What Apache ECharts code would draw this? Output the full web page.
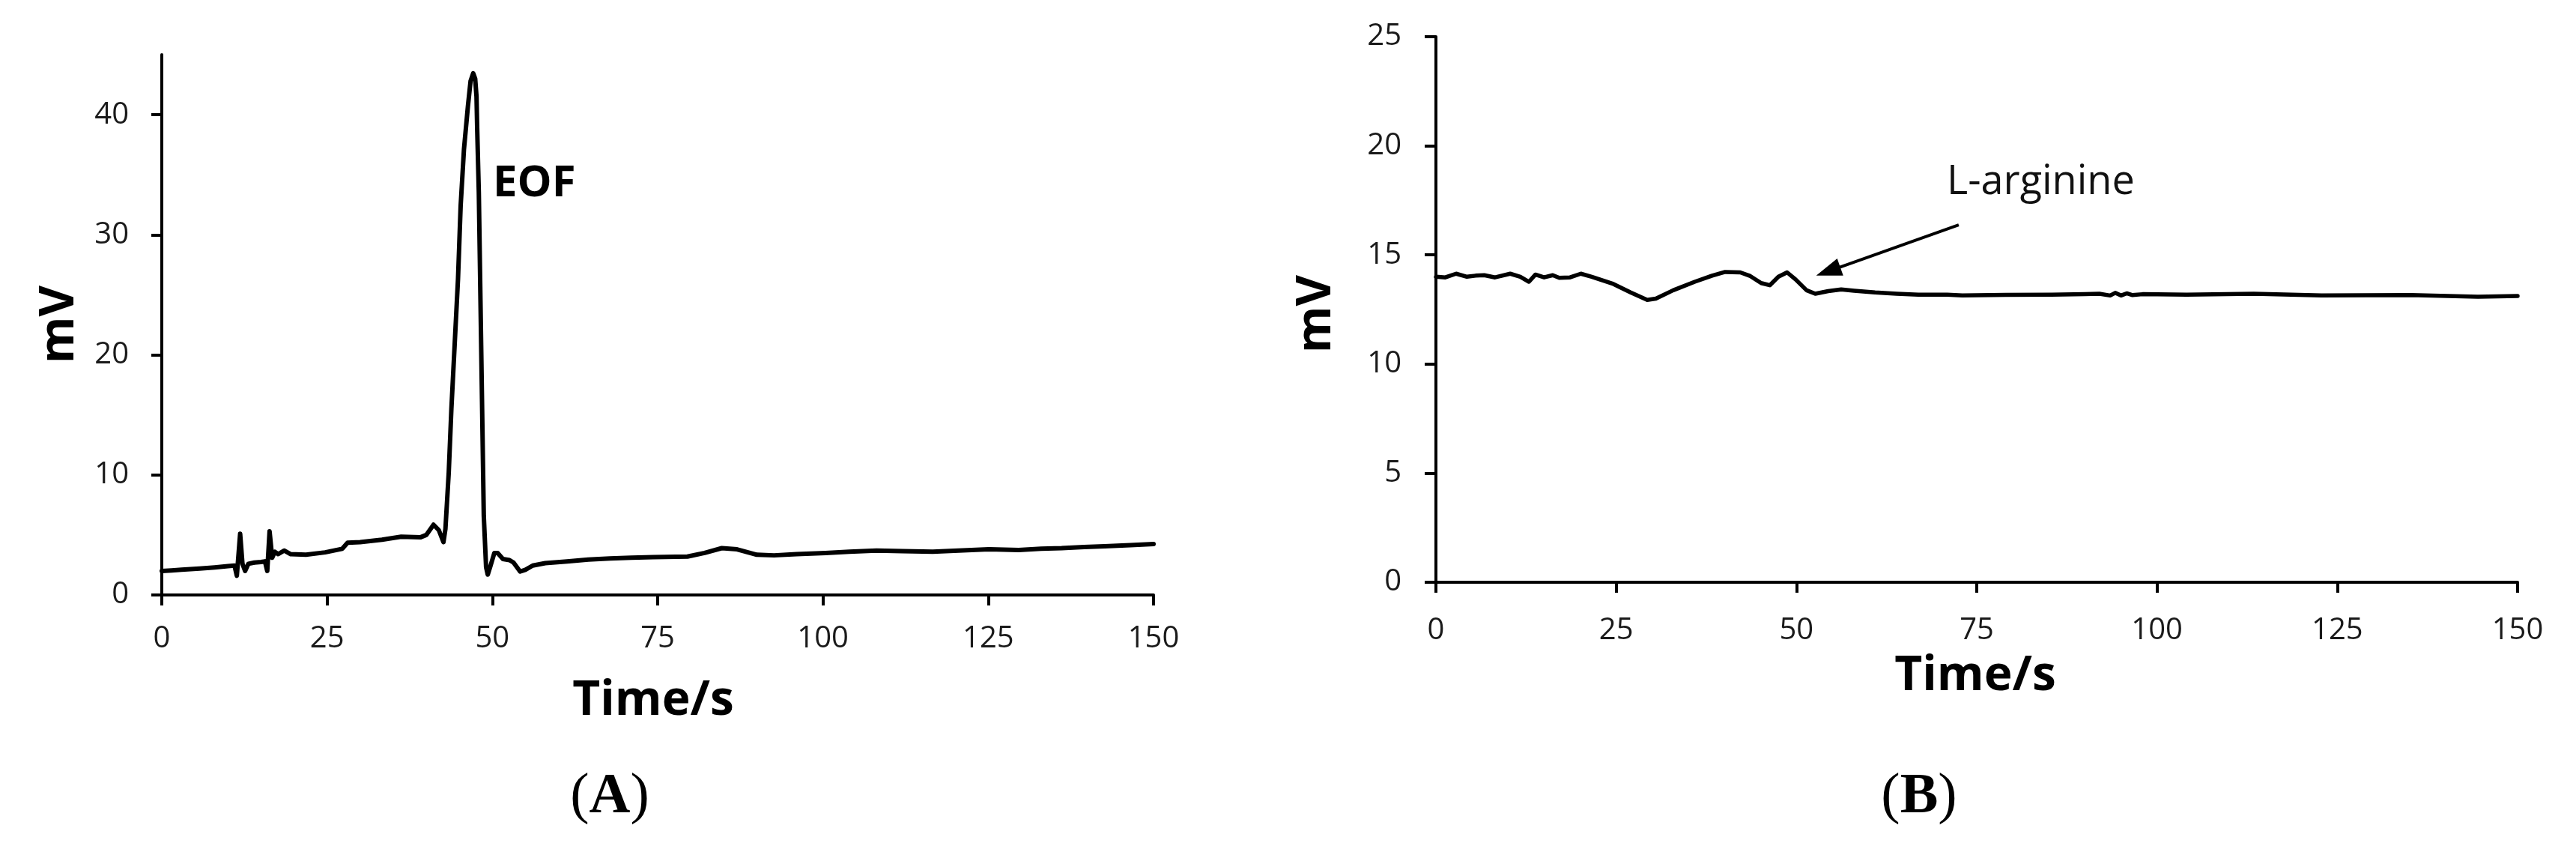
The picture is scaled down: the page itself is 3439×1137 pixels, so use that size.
<!DOCTYPE html>
<html>
<head>
<meta charset="utf-8">
<script src="https://cdn.jsdelivr.net/npm/echarts@6/dist/echarts.min.js"></script>
<style>
html,body{margin:0;padding:0;background:#fff;}
#chart{width:3439px;height:1137px;}
</style>
</head>
<body>
<div id="chart"></div>
<script>
// Panel A (EOF trace)
var timeA = [0,1.5,3,5.7,8,10,11.0,11.35,11.85,12.2,12.6,13.1,14.0,15.0,15.6,15.95,16.3,16.7,17.1,17.6,18.5,19.5,21.8,24.7,27.3,28.1,30,33.3,36.2,39.1,40.0,41.1,41.9,42.6,42.9,43.4,43.8,44.3,44.8,45.2,45.7,46.3,46.7,47.1,47.4,47.6,47.7,47.95,48.2,48.5,48.7,49.05,49.3,49.7,50.3,50.8,51.6,52.6,53.2,54.2,55.0,56.1,58,61.3,64.5,67.8,71,74.3,79.5,82.1,84.7,87.0,90.0,92.6,96,100.4,104,108.1,112,116.6,120.5,125.1,129.6,133,136.1,139.5,142.6,146.5,150];
var mvA = [2.0,2.05,2.1,2.2,2.3,2.4,2.45,1.6,5.1,2.6,2.0,2.6,2.7,2.75,2.8,2.0,5.3,3.1,3.6,3.4,3.7,3.4,3.35,3.55,3.85,4.35,4.4,4.6,4.85,4.8,5.0,5.85,5.4,4.4,5.5,10.2,15.5,20.9,26.3,32.4,37.1,40.7,42.8,43.45,43.0,41.5,38.9,33.5,24.5,13.75,6.6,2.3,1.7,2.4,3.5,3.5,3.0,2.9,2.7,1.95,2.1,2.45,2.65,2.8,2.95,3.05,3.1,3.15,3.2,3.5,3.9,3.8,3.35,3.3,3.4,3.5,3.6,3.7,3.65,3.6,3.7,3.8,3.75,3.85,3.9,4.0,4.05,4.15,4.25];
// Panel B (L-arginine trace)
var timeB = [0,1.3,2.8,4.3,5.5,6.7,8.2,10.3,11.7,12.9,13.8,15.0,16.2,17.1,18.6,20.1,21.6,24.6,27.0,29.3,30.5,32.9,35.9,38.3,40.1,42.2,43.6,45.1,46.3,47.5,48.7,49.9,51.4,52.6,54.4,56.2,58.0,60.9,63.9,66.9,70.9,73.0,79,85.4,90,92,93.5,94.2,95,95.8,96.6,98,104.1,113.4,122.8,135.2,144.5,150];
var mvB = [14.0,13.97,14.14,14.0,14.05,14.07,13.97,14.14,14.0,13.77,14.1,13.97,14.07,13.95,13.97,14.14,14.0,13.67,13.28,12.94,13.0,13.38,13.77,14.05,14.22,14.2,14.03,13.71,13.61,14.0,14.2,13.87,13.38,13.22,13.34,13.42,13.36,13.28,13.22,13.18,13.18,13.14,13.17,13.18,13.2,13.22,13.14,13.26,13.14,13.24,13.16,13.2,13.18,13.22,13.14,13.16,13.08,13.12];
// Axis ticks
var xTicks = [0,25,50,75,100,125,150];
var yTicksA = [0,10,20,30,40];
var yTicksB = [0,5,10,15,20,25];
// Arrow annotation (panel B): from label toward peak
var arrowFrom = [72.5,16.38];
var arrowTo = [54.4,14.25];

function pairs(xs, ys){ return xs.map(function(x,i){ return [x, ys[i]]; }); }

var tickFont = {fontFamily:'Open Sans', fontSize:40, color:'#1a1a1a'};
function xAxisCfg(idx, margin){
  return {
    type:'value', gridIndex:idx, min:0, max:150, interval:25,
    axisLine:{show:true, onZero:false, lineStyle:{color:'#000', width:4}},
    axisTick:{show:true, length:14, lineStyle:{color:'#000', width:4}, customValues:xTicks},
    axisLabel:Object.assign({margin:margin, customValues:xTicks}, tickFont),
    splitLine:{show:false}
  };
}

var chart = echarts.init(document.getElementById('chart'), null, {renderer:'canvas', width:3439, height:1137});
chart.setOption({
  animation:false,
  backgroundColor:'#fff',
  grid:[
    {left:216, top:73, width:1324, height:721},
    {left:1917, top:49, width:1444, height:728}
  ],
  xAxis:[ xAxisCfg(0, 39), xAxisCfg(1, 45) ],
  yAxis:[
    {type:'value', gridIndex:0, min:0, max:45, interval:5,
     axisLine:{show:true, onZero:false, lineStyle:{color:'#000', width:4}},
     axisTick:{show:true, length:14, lineStyle:{color:'#000', width:4}, customValues:yTicksA},
     axisLabel:Object.assign({margin:44, customValues:yTicksA}, tickFont),
     splitLine:{show:false}},
    {type:'value', gridIndex:1, min:0, max:25, interval:5,
     axisLine:{show:true, onZero:false, lineStyle:{color:'#000', width:4}},
     axisTick:{show:true, length:15, lineStyle:{color:'#000', width:4}, customValues:yTicksB},
     axisLabel:Object.assign({margin:46, customValues:yTicksB}, tickFont),
     splitLine:{show:false}}
  ],
  series:[
    {type:'line', xAxisIndex:0, yAxisIndex:0, data:pairs(timeA, mvA), showSymbol:false, symbol:'none',
     lineStyle:{color:'#000', width:6, join:'round', cap:'round'}},
    {type:'line', xAxisIndex:1, yAxisIndex:1, data:pairs(timeB, mvB), showSymbol:false, symbol:'none',
     lineStyle:{color:'#000', width:5.5, join:'round', cap:'round'},
     markLine:{silent:true, animation:false, symbol:['none','triangle'], symbolSize:[24,34],
       label:{show:false}, lineStyle:{color:'#000', width:4, type:'solid'},
       data:[[{coord:arrowFrom}, {coord:arrowTo}]]}}
  ],
  graphic:[
    {type:'text', x:80, y:433, rotation:Math.PI/2, style:{text:'mV', font:'bold 64px "Open Sans"', fill:'#000', textAlign:'center', textVerticalAlign:'middle'}},
    {type:'text', x:1758, y:419, rotation:Math.PI/2, style:{text:'mV', font:'bold 64px "Open Sans"', fill:'#000', textAlign:'center', textVerticalAlign:'middle'}},
    {type:'text', x:872, y:936, style:{text:'Time/s', font:'bold 64px "Open Sans"', fill:'#000', textAlign:'center', textVerticalAlign:'middle'}},
    {type:'text', x:2637, y:903, style:{text:'Time/s', font:'bold 64px "Open Sans"', fill:'#000', textAlign:'center', textVerticalAlign:'middle'}},
    {type:'text', x:658, y:245, style:{text:'EOF', font:'bold 58px "Open Sans"', fill:'#000', textAlign:'left', textVerticalAlign:'middle'}},
    {type:'text', x:2599, y:244, style:{text:'L-arginine', font:'54px "Open Sans"', fill:'#111', textAlign:'left', textVerticalAlign:'middle'}},
    {type:'text', x:814, y:1064, style:{text:'{n|(}{b|A}{n|)}', textAlign:'center', textVerticalAlign:'middle',
      rich:{n:{fontFamily:'Liberation Serif', fontSize:76, fill:'#000'}, b:{fontFamily:'Liberation Serif', fontWeight:'bold', fontSize:76, fill:'#000'}}}},
    {type:'text', x:2562, y:1064, style:{text:'{n|(}{b|B}{n|)}', textAlign:'center', textVerticalAlign:'middle',
      rich:{n:{fontFamily:'Liberation Serif', fontSize:76, fill:'#000'}, b:{fontFamily:'Liberation Serif', fontWeight:'bold', fontSize:76, fill:'#000'}}}}
  ]
});
</script>
</body>
</html>
